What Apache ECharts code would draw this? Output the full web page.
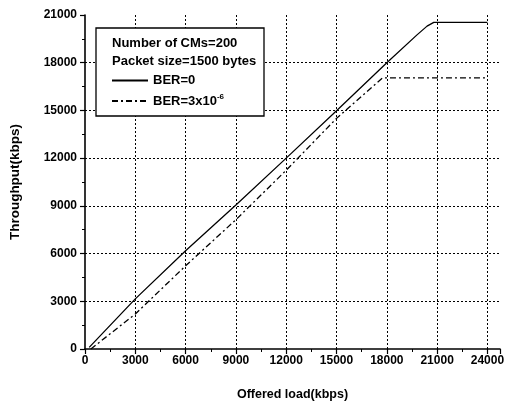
<!DOCTYPE html>
<html>
<head>
<meta charset="utf-8">
<script src="https://cdn.jsdelivr.net/npm/echarts@6/dist/echarts.min.js"></script>
<style>
  html, body { margin: 0; padding: 0; background: #fff; }
  #chart { width: 513px; height: 406px; }
</style>
</head>
<body>
<div id="chart"></div>
<script>
// offered load (kbps) vs throughput (kbps)
var berZeroLoad = [250, 3000, 6000, 9000, 12000, 15000, 18000, 19800, 20400, 20800, 24000]
var berZeroThroughput = [100, 3150, 6180, 9050, 12000, 14980, 18000, 19750, 20300, 20540, 20540]
var berErrLoad = [350, 3000, 6000, 9000, 12000, 15000, 17750, 24000]
var berErrThroughput = [0, 2200, 5230, 8130, 11240, 14500, 17050, 17050]
var xTicks = [0, 3000, 6000, 9000, 12000, 15000, 18000, 21000, 24000]
var yTicks = [0, 3000, 6000, 9000, 12000, 15000, 18000, 21000]
var noteLines = ['Number of CMs=200', 'Packet size=1500 bytes']

function zip(xs, ys) {
  var out = []
  for (var i = 0; i < xs.length; i++) {
    out.push([xs[i], ys[i]])
  }
  return out
}

var font = 'Liberation Sans, Arial, sans-serif'
var chart = echarts.init(document.getElementById('chart'))

var option = {
  animation: false,
  backgroundColor: '#fff',
  grid: {
    left: 83,
    right: 13,
    top: 15,
    bottom: 54,
  },
  xAxis: {
    type: 'value',
    min: xTicks[0],
    max: 24750,
    interval: 3000,
    name: 'Offered load(kbps)',
    nameLocation: 'middle',
    nameGap: 39,
    nameTextStyle: { color: '#000', fontFamily: font, fontWeight: 'bold', fontSize: 12.5 },
    axisLine: { lineStyle: { color: '#000', width: 1.6 } },
    axisTick: { length: 5, lineStyle: { color: '#000', width: 1.2 } },
    minorTick: { show: true, splitNumber: 2, length: 3, lineStyle: { color: '#000', width: 1 } },
    axisLabel: {
      margin: 6,
      color: '#000',
      fontFamily: font,
      fontWeight: 'bold',
      fontSize: 12,
      showMaxLabel: false,
      formatter: function (v) { return String(v) },
    },
    splitLine: {
      show: true,
      showMinLine: false,
      showMaxLine: false,
      lineStyle: { color: '#000', type: [2, 2], width: 1 },
    },
  },
  yAxis: {
    type: 'value',
    min: yTicks[0],
    max: yTicks[yTicks.length - 1],
    interval: 3000,
    name: 'Throughput(kbps)',
    nameLocation: 'middle',
    nameGap: 63,
    nameTextStyle: { color: '#000', fontFamily: font, fontWeight: 'bold', fontSize: 13.5 },
    axisLine: { show: true, lineStyle: { color: '#000', width: 1.6 } },
    axisTick: { show: true, length: 5, lineStyle: { color: '#000', width: 1.2 } },
    minorTick: { show: true, splitNumber: 2, length: 3, lineStyle: { color: '#000', width: 1 } },
    axisLabel: {
      margin: 8,
      color: '#000',
      fontFamily: font,
      fontWeight: 'bold',
      fontSize: 12,
      formatter: function (v) { return String(v) },
    },
    splitLine: {
      show: true,
      showMinLine: false,
      showMaxLine: false,
      lineStyle: { color: '#000', type: [2, 2], width: 1 },
    },
  },
  legend: {
    orient: 'vertical',
    left: 111,
    top: 74,
    z: 10,
    itemWidth: 36,
    itemHeight: 12,
    itemGap: 6,
    padding: 0,
    itemStyle: { opacity: 0 },
    data: ['BER=0', 'BER=3x10-6'],
    formatter: function (name) {
      if (name === 'BER=3x10-6') {
        return '{t|BER=3x10}{s|-6}'
      }
      return '{t|' + name + '}'
    },
    textStyle: {
      color: '#000',
      fontFamily: font,
      fontWeight: 'bold',
      fontSize: 13,
      rich: {
        t: { fontFamily: font, fontWeight: 'bold', fontSize: 13, color: '#000' },
        s: { fontFamily: font, fontWeight: 'bold', fontSize: 8, color: '#000', padding: [0, 0, 8, 0] },
      },
    },
  },
  graphic: [
    {
      type: 'rect',
      z: 5,
      shape: { x: 96, y: 28, width: 168, height: 88 },
      style: { fill: '#fff', stroke: '#000', lineWidth: 1.3 },
    },
    {
      type: 'text',
      z: 6,
      left: 112,
      top: 37,
      style: { text: noteLines[0], fill: '#000', font: 'bold 13px ' + font },
    },
    {
      type: 'text',
      z: 6,
      left: 112,
      top: 55,
      style: { text: noteLines[1], fill: '#000', font: 'bold 13px ' + font },
    },
  ],
  series: [
    {
      name: 'BER=0',
      type: 'line',
      symbol: 'none',
      lineStyle: { color: '#000', width: 1.3 },
      itemStyle: { color: '#000' },
      data: zip(berZeroLoad, berZeroThroughput),
    },
    {
      name: 'BER=3x10-6',
      type: 'line',
      symbol: 'none',
      lineStyle: { color: '#000', width: 1.3, type: [6, 3, 2, 3] },
      itemStyle: { color: '#000' },
      data: zip(berErrLoad, berErrThroughput),
    },
  ],
}
chart.setOption(option)
</script>
</body>
</html>
